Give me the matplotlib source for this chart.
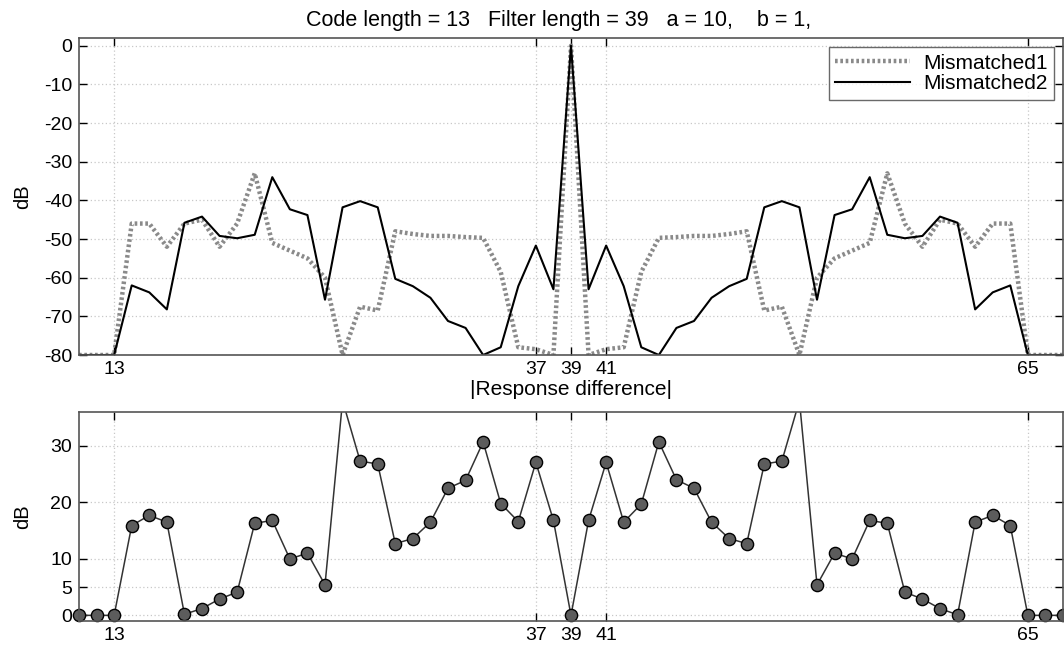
import numpy as np
import matplotlib
matplotlib.use("Agg")
import matplotlib.pyplot as plt

plt.rcParams['font.family'] = ['Liberation Sans', 'DejaVu Sans']
plt.rcParams['axes.unicode_minus'] = False

lags = list(range(11, 68))

mismatched1 = [-80, -80, -80, -46, -46, -52, -46, -45, -52, -46,
               -33, -51, -53, -55, -60, -80, -67.5, -68.5, -48, -48.7,
               -49.2, -49.2, -49.5, -49.7, -58.5, -78, -78.5, -80, 0, -80,
               -78.5, -78, -58.5, -49.7, -49.5, -49.2, -49.2, -48.7, -48, -68.5,
               -67.5, -80, -60, -55, -53, -51, -33, -46, -52, -45,
               -46, -52, -46, -46, -80, -80, -80]

mismatched2 = [-80, -80, -80, -62, -63.8, -68.2, -45.8, -44.2, -49.2, -49.8,
               -48.9, -34, -42.3, -43.8, -65.7, -41.8, -40.2, -41.8, -60.3, -62.2,
               -65.2, -71.2, -73, -80, -78, -62.2, -51.7, -63, 0, -63,
               -51.7, -62.2, -78, -80, -73, -71.2, -65.2, -62.2, -60.3, -41.8,
               -40.2, -41.8, -65.7, -43.8, -42.3, -34, -48.9, -49.8, -49.2, -44.2,
               -45.8, -68.2, -63.8, -62, -80, -80, -80]

difference = [0, 0, 0, 15.9, 17.7, 16.5, 0.2, 1.2, 2.9, 4.1,
              16.3, 16.8, 10, 11, 5.4, 38, 27.3, 26.8, 12.7, 13.6,
              16.5, 22.5, 23.9, 30.7, 19.8, 16.6, 27.1, 16.8, 0, 16.8,
              27.1, 16.5, 19.7, 30.7, 24, 22.5, 16.5, 13.6, 12.7, 26.8,
              27.3, 38, 5.4, 11, 10, 16.8, 16.3, 4.1, 2.9, 1.2,
              0.1, 16.5, 17.7, 15.9, 0, 0, 0]

xticks = [13, 37, 39, 41, 65]
yticks_top = [0, -10, -20, -30, -40, -50, -60, -70, -80]
yticks_bot = [0, 5, 10, 20, 30]

W, H = 1064, 646
fig = plt.figure(figsize=(W / 100, H / 100), dpi=100)

ax1 = fig.add_axes([79 / W, 1 - 355 / H, (1063 - 79) / W, (355 - 38) / H])
ax2 = fig.add_axes([79 / W, 1 - 621 / H, (1063 - 79) / W, (621 - 412) / H])

def style(ax, xpad):
    ax.set_xlim(11, 67)
    ax.set_xticks(xticks)
    ax.tick_params(direction='in', length=6, width=1, top=True, right=True,
                   labelsize=14, colors='black')
    ax.tick_params(axis='x', pad=xpad)
    ax.tick_params(axis='y', pad=5)
    ax.grid(True, linestyle=(0, (1, 2)), color='#c8c8c8', linewidth=0.9)
    for s in ax.spines.values():
        s.set_color('#555555')
        s.set_linewidth(1.2)

ax1.plot(lags, mismatched1, color='#8a8a8a', linestyle=(0, (0.6, 0.6)),
         linewidth=3.2, label='Mismatched1')
ax1.plot(lags, mismatched2, color='black', linewidth=1.5, label='Mismatched2')
ax1.set_ylim(-80, 2)
ax1.set_yticks(yticks_top)
style(ax1, 4)
ax1.set_ylabel('dB', fontsize=14.5)
ax1.yaxis.set_label_coords(-0.048, 0.5)
ax1.set_title('Code length = 13   Filter length = 39   a = 10,    b = 1,    ',
              fontsize=15.5, pad=8.5)
leg = ax1.legend(loc='upper right', fontsize=15, frameon=True, fancybox=False,
                 borderpad=0.3, labelspacing=0.08, handlelength=3.6,
                 handletextpad=0.6, borderaxespad=0.45)
leg.get_frame().set_edgecolor('#444444')
leg.get_frame().set_linewidth(1.0)

ax2.plot(lags, difference, color='#333333', linewidth=1.1)
diff_vis = np.ma.masked_greater(np.array(difference, dtype=float), 36)
ax2.plot(lags, diff_vis, linestyle='none', marker='o', markersize=8.8,
         markerfacecolor='#5c5c5c', markeredgecolor='black',
         markeredgewidth=1.0, clip_on=False)
ax2.set_ylim(-1, 36)
ax2.set_yticks(yticks_bot)
style(ax2, 4.5)
ax2.set_ylabel('dB', fontsize=14.5)
ax2.yaxis.set_label_coords(-0.048, 0.5)
ax2.set_title('|Response difference|', fontsize=15, pad=12.5)

fig.savefig('out.png', dpi=100)
